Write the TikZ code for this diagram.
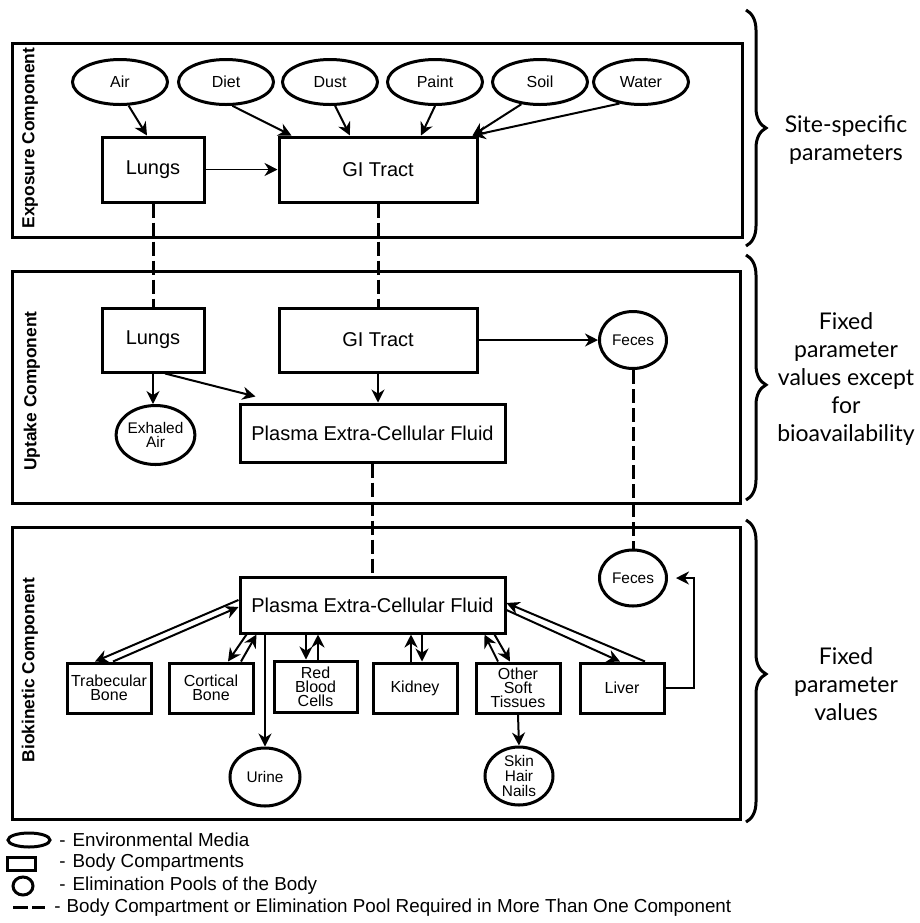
\documentclass[tikz,border=0pt]{standalone}
\usepackage{fontspec}
\setmainfont{Liberation Sans}
\newfontfamily\bracefont{Lato}
\usetikzlibrary{shapes.geometric,arrows.meta,decorations.pathreplacing}
\tikzset{
  panel/.style={line width=1.5pt},
  comp/.style={draw,line width=1.5pt,inner sep=0pt,align=center,font=\fontsize{10}{11}\selectfont},
  organ/.style={draw,line width=1.5pt,inner sep=0pt,align=center,minimum width=42pt,minimum height=25pt,font=\fontsize{8}{7}\selectfont},
  media/.style={draw,ellipse,line width=1.5pt,inner sep=0pt,minimum width=47.5pt,minimum height=22.5pt,font=\fontsize{8}{9}\selectfont},
  pool/.style={draw,ellipse,line width=1.5pt,inner sep=0pt,align=center,font=\fontsize{7.7}{7.3}\selectfont},
  flow/.style={-{Stealth[length=6.5pt,width=6.5pt]},line width=1pt},
  shared/.style={line width=1.5pt,dash pattern=on 7pt off 2.5pt},
  side/.style={rotate=90,font=\bfseries\fontsize{8.7}{10}\selectfont},
  legtext/.style={anchor=west,inner sep=0pt,font=\fontsize{9.4}{10}\selectfont},
  bracetext/.style={align=center,font=\bracefont\fontsize{11.5}{14}\selectfont},
  curly/.style={line width=1.5pt,decorate,decoration={brace,amplitude=10pt,#1}},
  curly/.default={aspect=0.5}
}
\begin{document}
\begin{tikzpicture}[x=0.5pt,y=-0.5pt]
\useasboundingbox (0,0) rectangle (920,923);
\fill[white] (0,0) rectangle (920,923);
\draw[panel] (12,43) rectangle (742,237);
\draw[panel] (12,271) rectangle (740,503);
\draw[panel] (12,527) rectangle (740,819);
\node[side] (expLbl) at (30,138) {Exposure Component};
\node[side] (uptLbl) at (32,391) {Uptake Component};
\node[side] (bioLbl) at (30,670) {Biokinetic Component};
\node[media] (air) at (120,82) {Air};
\node[media] (diet) at (226,82) {Diet};
\node[media] (dust) at (330,82) {Dust};
\node[media] (paint) at (435,82) {Paint};
\node[media] (soil) at (540,82) {Soil};
\node[media] (water) at (641,82) {Water};
\node[comp,minimum width=51pt,minimum height=32.5pt] (lungsE) at (153,169.5) {Lungs};
\node[comp,minimum width=99pt,minimum height=32.5pt] (giE) at (378,169.5) {GI Tract};
\node[comp,minimum width=51pt,minimum height=32pt] (lungsU) at (153,340) {Lungs};
\node[comp,minimum width=99pt,minimum height=32pt] (giU) at (378,340) {GI Tract};
\node[comp,minimum width=132.5pt,minimum height=29pt] (plasmaU) at (372.5,433) {Plasma Extra-Cellular Fluid};
\node[pool,minimum width=34.5pt,minimum height=29.5pt] (exhaled) at (155.5,435) {Exhaled\\Air};
\node[pool,minimum width=33.5pt,minimum height=28.5pt] (fecesU) at (633,340) {Feces};
\node[comp,minimum width=132.5pt,minimum height=28pt] (plasmaB) at (372.5,605) {Plasma Extra-Cellular Fluid};
\node[pool,minimum width=33.5pt,minimum height=28pt] (fecesB) at (633,578) {Feces};
\node[organ] (trab) at (109,688) {Trabecular\\Bone};
\node[organ] (cort) at (211,688) {Cortical\\Bone};
\node[organ,minimum width=41.5pt,minimum height=25.5pt] (rbc) at (315.5,686.5) {Red\\Blood\\Cells};
\node[organ] (kidney) at (415,688) {Kidney};
\node[organ] (other) at (518,688) {Other\\Soft\\Tissues};
\node[organ] (liver) at (622,688) {Liver};
\node[pool,minimum width=35pt,minimum height=29pt] (urine) at (265,777) {Urine};
\node[pool,minimum width=34pt,minimum height=29pt] (skin) at (519,776) {Skin\\Hair\\Nails};
\draw[flow] (air.-70) -- ([xshift=-3pt]lungsE.north);
\draw[flow] (diet.-75) -- ([xshift=7pt]giE.north west);
\draw[flow] (dust.-78) -- ([xshift=-14pt]giE.north);
\draw[flow] (paint.south) -- ([xshift=21.5pt]giE.north);
\draw[flow] (soil.-130) -- ([xshift=-3pt]giE.north east);
\draw[flow] (water.-135) -- ([xshift=-3pt]giE.north east);
\draw[-{Stealth[length=6.5pt,width=6.5pt]},line width=0.4pt] (lungsE.east) -- (giE.west);
\draw[shared] (lungsE.south) -- (lungsU.north);
\draw[shared] (giE.south) -- (giU.north);
\draw[flow] (lungsU.south) -- (lungsU.south |- exhaled.north);
\draw[flow] ([xshift=6pt]lungsU.south) -- ([xshift=8.5pt,yshift=3pt]plasmaU.north west);
\draw[flow] (giU.south) -- (giU.south |- plasmaU.north);
\draw[flow] (giU.east) -- (fecesU.west);
\draw[shared] (plasmaU.south) -- (plasmaB.north);
\draw[shared] (fecesU.south) -- (fecesB.north);
\draw[flow] ([yshift=2.5pt]plasmaB.west) -- ([xshift=-7pt]trab.north);
\draw[flow] ([xshift=2pt]trab.north) -- ([yshift=-1pt]plasmaB.west);
\draw[flow] ([xshift=4pt]plasmaB.south west) -- ([xshift=8.5pt]cort.north);
\draw[flow] ([xshift=15pt]cort.north) -- ([xshift=9pt]plasmaB.south west);
\draw[flow] ([xshift=-4.75pt]rbc.north |- plasmaB.south) -- ([xshift=-4.75pt]rbc.north);
\draw[flow] ([xshift=1.25pt]rbc.north) -- ([xshift=1.25pt]rbc.north |- plasmaB.south);
\draw[flow] ([xshift=-2pt]kidney.north) -- ([xshift=-2pt]kidney.north |- plasmaB.south);
\draw[flow] ([xshift=3.5pt]kidney.north |- plasmaB.south) -- ([xshift=3.5pt]kidney.north);
\draw[flow] ([xshift=-10pt]other.north) -- ([xshift=-11pt]plasmaB.south east);
\draw[flow] ([xshift=-6pt]plasmaB.south east) -- ([xshift=-4pt]other.north);
\draw[flow] ([xshift=11.5pt]liver.north) -- ([yshift=1pt]plasmaB.east);
\draw[flow] ([yshift=-2.5pt]plasmaB.east) -- ([xshift=-1pt]liver.north);
\draw[flow] (liver.east) -- ++(28,0) |- ([xshift=4pt]fecesB.east);
\draw[flow] (urine.north |- plasmaB.south) -- (urine.north);
\draw[flow] (other.south) -- (skin.north);
\draw[curly] (746,10) -- (746,246);
\draw[curly={aspect=0.53}] (746,255) -- (746,500);
\draw[curly={aspect=0.51}] (746,520) -- (746,822);
\node[bracetext] (siteTxt) at (846,140) {Site-specific\\parameters};
\node[bracetext] (uptTxt) at (846,379) {Fixed\\parameter\\values except\\for\\bioavailability};
\node[bracetext] (bioTxt) at (846,684) {Fixed\\parameter\\values};
\node[draw,ellipse,line width=1.5pt,minimum width=21pt,minimum height=7pt,inner sep=0pt] (legMedia) at (29,840) {};
\node[draw,line width=1.5pt,minimum width=14pt,minimum height=6.5pt,inner sep=0pt] (legComp) at (21,863.5) {};
\node[draw,ellipse,line width=1.5pt,minimum width=10pt,minimum height=9pt,inner sep=0pt] (legPool) at (23,886) {};
\draw[shared,dash pattern=on 7.5pt off 2pt] (13,907) -- (45,907);
\node[legtext] (legMediaTxt) at (59,840) {-\hspace{3.5pt}Environmental Media};
\node[legtext] (legCompTxt) at (59,863) {-\hspace{3.5pt}Body Compartments};
\node[legtext] (legPoolTxt) at (59,886) {-\hspace{3.5pt}Elimination Pools of the Body};
\node[legtext] (legSharedTxt) at (54,908) {-\hspace{3pt}Body Compartment or Elimination Pool Required in More Than One Component};
\end{tikzpicture}
\end{document}
